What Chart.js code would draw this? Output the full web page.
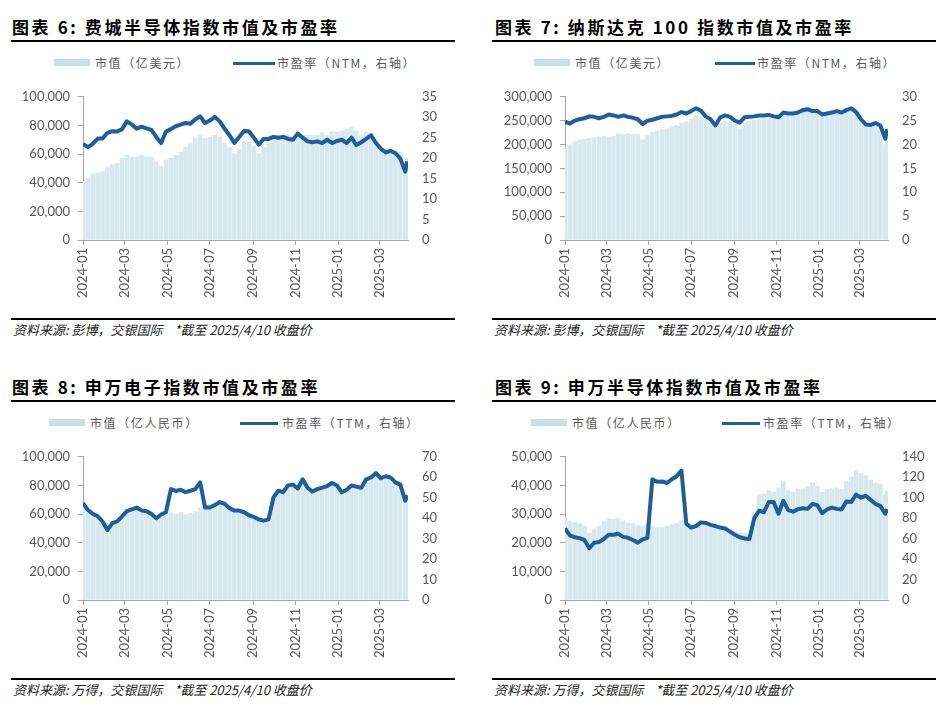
<!DOCTYPE html>
<html>
<head>
<meta charset="utf-8">
<script src="https://cdn.jsdelivr.net/npm/chart.js@4.4.1/dist/chart.umd.min.js"></script>
<style>
  body { margin: 0; background: #fff; width: 937px; height: 718px; position: relative; overflow: hidden;
         font-family: "Noto Sans CJK SC", sans-serif; }
  .title { position: absolute; font-weight: 700; font-size: 17px; letter-spacing: 2.6px; color: #000;
           line-height: 20px; white-space: nowrap; }
  .rule { position: absolute; height: 1.5px; background: #000; width: 444px; }
  .note { position: absolute; font-size: 13px; font-style: italic; color: #222; white-space: nowrap; line-height: 15px; }
  .lg { position: absolute; font-size: 12px; letter-spacing: 1.6px; color: #595959; white-space: nowrap; line-height: 14px; }
  .swBar { position: absolute; height: 7px; background: #c8dfe6; }
  .swLine { position: absolute; height: 3px; background: #1f5d9b; }
  canvas { position: absolute; }
</style>
</head>
<body>

<!-- 图表 6 -->
<div class="title" style="left:12px;top:17px">图表 6: 费城半导体指数市值及市盈率</div>
<div class="rule" style="left:11px;top:40px"></div>
<div class="swBar" style="left:54px;top:59px;width:36px"></div>
<div class="lg" style="left:95px;top:56px">市值（亿美元）</div>
<div class="swLine" style="left:233px;top:61.5px;width:42px"></div>
<div class="lg" style="left:277px;top:56px">市盈率（NTM，右轴）</div>
<canvas id="c6" width="430" height="230" style="left:20px;top:75px"></canvas>
<div class="rule" style="left:11px;top:318px"></div>
<div class="note" style="left:13px;top:322px">资料来源: 彭博，交银国际&nbsp;&nbsp;&nbsp;&nbsp;*截至 2025/4/10 收盘价</div>

<!-- 图表 7 -->
<div class="title" style="left:495px;top:17px">图表 7: 纳斯达克 100 指数市值及市盈率</div>
<div class="rule" style="left:492px;top:40px"></div>
<div class="swBar" style="left:534px;top:59px;width:36px"></div>
<div class="lg" style="left:575px;top:56px">市值（亿美元）</div>
<div class="swLine" style="left:715px;top:61.5px;width:40px"></div>
<div class="lg" style="left:757px;top:56px">市盈率（NTM，右轴）</div>
<canvas id="c7" width="428" height="230" style="left:502px;top:75px"></canvas>
<div class="rule" style="left:492px;top:318px"></div>
<div class="note" style="left:494px;top:322px">资料来源: 彭博，交银国际&nbsp;&nbsp;&nbsp;&nbsp;*截至 2025/4/10 收盘价</div>

<!-- 图表 8 -->
<div class="title" style="left:12px;top:377px">图表 8: 申万电子指数市值及市盈率</div>
<div class="rule" style="left:11px;top:400px"></div>
<div class="swBar" style="left:49px;top:419px;width:36px"></div>
<div class="lg" style="left:90px;top:416px">市值（亿人民币）</div>
<div class="swLine" style="left:240px;top:421.5px;width:38px"></div>
<div class="lg" style="left:282px;top:416px">市盈率（TTM，右轴）</div>
<canvas id="c8" width="430" height="230" style="left:20px;top:435px"></canvas>
<div class="rule" style="left:11px;top:678px"></div>
<div class="note" style="left:13px;top:682px">资料来源: 万得，交银国际&nbsp;&nbsp;&nbsp;&nbsp;*截至 2025/4/10 收盘价</div>

<!-- 图表 9 -->
<div class="title" style="left:495px;top:377px">图表 9: 申万半导体指数市值及市盈率</div>
<div class="rule" style="left:492px;top:400px"></div>
<div class="swBar" style="left:531px;top:419px;width:36px"></div>
<div class="lg" style="left:572px;top:416px">市值（亿人民币）</div>
<div class="swLine" style="left:722px;top:421.5px;width:38px"></div>
<div class="lg" style="left:763px;top:416px">市盈率（TTM，右轴）</div>
<canvas id="c9" width="428" height="230" style="left:502px;top:435px"></canvas>
<div class="rule" style="left:492px;top:678px"></div>
<div class="note" style="left:494px;top:682px">资料来源: 万得，交银国际&nbsp;&nbsp;&nbsp;&nbsp;*截至 2025/4/10 收盘价</div>

<script>
// weekly samples, last point = 2025-04-10 close
const weeks = [
  '2024-01-01','2024-01-08','2024-01-15','2024-01-22','2024-01-29','2024-02-05','2024-02-12','2024-02-19','2024-02-26',
  '2024-03-04','2024-03-11','2024-03-18','2024-03-25','2024-04-01','2024-04-08','2024-04-15','2024-04-22','2024-04-29',
  '2024-05-06','2024-05-13','2024-05-20','2024-05-27','2024-06-03','2024-06-10','2024-06-17','2024-06-24','2024-07-01',
  '2024-07-08','2024-07-15','2024-07-22','2024-07-29','2024-08-05','2024-08-12','2024-08-19','2024-08-26','2024-09-02',
  '2024-09-09','2024-09-16','2024-09-23','2024-09-30','2024-10-07','2024-10-14','2024-10-21','2024-10-28','2024-11-04',
  '2024-11-11','2024-11-18','2024-11-25','2024-12-02','2024-12-09','2024-12-16','2024-12-23','2024-12-30','2025-01-06',
  '2025-01-13','2025-01-20','2025-01-27','2025-02-03','2025-02-10','2025-02-17','2025-02-24','2025-03-03','2025-03-10',
  '2025-03-17','2025-03-24','2025-03-31','2025-04-07','2025-04-10'
];

// x axis tick labels (every two months)
const monthTicks = ['2024-01','2024-03','2024-05','2024-07','2024-09','2024-11','2025-01','2025-03'];

// 图表 6: 费城半导体
const soxCap = [40900,43000,46200,46900,47700,50500,52700,53300,57000,59100,58000,58000,59100,58000,58000,54800,51600,
  55900,57000,59100,61300,64900,67700,71400,73100,71000,72000,73100,72000,67700,64500,60200,63400,68800,68400,65600,
  60200,64500,67700,71400,73100,73100,73500,72000,75300,73100,73100,73100,73500,74800,73100,75700,75300,76300,77400,
  79100,76300,73100,75300,74200,68800,64500,63400,63400,62400,61300,47300,57000];
const soxPe = [23.5,22.7,23.5,24.8,24.8,26.2,26.6,26.5,27.1,29.0,28.2,27.2,27.7,27.3,26.9,25.2,23.7,26.5,27.1,27.8,
  28.2,28.6,28.4,29.5,30.2,28.6,29.2,30.1,29.0,27.2,25.6,23.7,25.2,26.7,26.5,25.0,23.3,24.7,24.7,25.2,25.0,25.2,24.7,
  24.5,26.0,25.0,24.1,23.9,24.1,23.7,24.5,23.7,24.2,24.5,23.7,25.0,23.2,23.9,24.7,25.6,23.7,22.3,21.4,21.8,21.2,19.9,
  16.7,19.2];

// 图表 7: 纳斯达克 100
const ndxCap = [193500,200000,206400,209600,211600,212900,214100,216100,217400,216100,217400,222500,220600,222500,
  220600,220600,209600,219300,225800,229000,230900,233500,237400,239900,245100,248300,252800,261200,258000,251600,
  245100,235400,245100,248300,246300,241900,233500,245100,248300,251600,252800,254800,254800,252800,254800,261200,
  259300,261200,264500,269600,272200,269600,269600,263200,264500,270900,269600,269600,273500,276100,265700,254800,
  245100,241900,245100,238700,200000,219300];
const ndxPe = [24.8,24.4,25.0,25.3,25.5,25.9,25.8,25.5,25.8,26.3,26.1,25.8,26.1,25.8,25.6,25.3,24.3,25.0,25.2,25.5,
  25.8,25.9,26.0,26.3,26.8,26.5,27.0,27.6,27.1,25.9,25.3,24.0,25.7,26.1,25.8,25.0,24.6,25.7,25.8,25.9,26.1,26.1,26.2,
  25.9,25.7,26.7,26.5,26.5,26.7,27.2,27.4,27.0,27.0,26.3,26.5,26.7,27.0,26.7,27.2,27.6,26.8,25.3,24.2,24.1,24.5,24.0,
  21.2,23.2];

// 图表 8: 申万电子
const elecCap = [65800,60900,58200,56500,52900,46900,51800,52900,56500,60000,61300,62600,60500,60000,58200,55000,57800,
  59300,61000,60000,61000,59500,60500,61500,64500,63600,63600,65400,67500,66200,63200,61500,61500,60300,58200,57100,
  55300,54500,55300,71500,76400,75400,80100,80700,77900,84400,78500,75800,77500,78500,79700,81800,80100,75400,77100,
  80100,79200,78500,84400,85700,88700,85100,86500,85700,82200,80700,69400,73200];
const elecPe = [47.4,44.0,42.1,40.9,38.4,34.2,37.6,38.4,40.9,43.4,44.3,45.2,43.7,43.4,42.1,39.9,41.8,42.9,54.2,53.3,
  53.9,52.7,53.4,54.2,57.5,45.2,45.2,46.4,47.9,47.0,44.9,43.7,43.7,42.9,41.4,40.6,39.4,38.8,39.4,50.0,53.4,52.7,56.0,
  56.4,54.5,59.0,54.9,53.0,54.2,54.9,55.7,57.2,56.0,52.7,53.9,56.0,55.4,54.9,59.0,59.9,62.0,59.5,60.5,59.9,57.5,56.4,
  48.5,51.2];

// 图表 9: 申万半导体
const semiCap = [28800,27400,27100,26700,25800,23400,24900,25800,27400,28500,28200,28500,27700,26900,26700,26000,25800,
  26600,25800,25300,25300,25800,26300,26700,27700,26700,25800,26300,27400,27100,26300,25800,25600,25300,24700,23900,
  23400,23400,23100,30600,36600,37100,38200,37800,39200,41400,38200,37600,38700,38900,39600,40900,39800,37600,38700,
  38900,39200,38700,41400,43000,45200,44100,43500,41900,40900,40500,36600,38200];
const semiPe = [69.9,63.2,61.4,60.5,58.7,50.6,56.0,56.6,59.6,63.8,63.8,64.7,61.7,60.8,58.7,56.0,59.3,60.8,118.0,115.6,
  115.9,114.4,118.0,121.0,126.5,74.7,70.8,72.3,75.9,75.3,73.5,72.3,70.8,69.9,66.8,63.8,61.4,60.2,59.6,79.8,87.3,85.8,
  95.8,95.8,84.3,97.0,87.9,86.4,88.8,89.7,89.1,93.9,92.7,84.9,88.5,90.3,89.1,88.5,96.4,95.8,103.0,100.0,101.8,97.9,
  93.9,91.8,84.3,88.8];

const BAR_COLOR = '#d7e9ee';
const LINE_COLOR = '#1f5d9b';
const AXIS_COLOR = '#a6a6a6';
const TICK_COLOR = '#595959';
const TICK_FONT = { family: 'Lato, "Liberation Sans", sans-serif', size: 13 };

// days since 2024-01-01, used as the linear x position
function dayOf(str) {
    const [y, m, d] = str.split('-').map(Number);
    return (Date.UTC(y, m - 1, d || 1) - Date.UTC(2024, 0, 1)) / 86400000;
}

const xDays = weeks.map(dayOf);
const tickDays = monthTicks.map(dayOf);

function makeChart(id, caps, pes, capMax, capStep, peMax, peStep) {
    const ctx = document.getElementById(id).getContext('2d');
    return new Chart(ctx, {
        type: 'bar',
        data: {
            datasets: [
                {
                    type: 'line',
                    data: pes.map((v, i) => ({ x: xDays[i], y: v })),
                    yAxisID: 'y1',
                    borderColor: LINE_COLOR,
                    borderWidth: 4,
                    borderJoinStyle: 'round',
                    pointRadius: 0,
                    tension: 0,
                    order: 0
                },
                {
                    type: 'bar',
                    data: caps.map((v, i) => ({ x: xDays[i], y: v })),
                    yAxisID: 'y',
                    backgroundColor: BAR_COLOR,
                    barThickness: 4,
                    order: 1
                }
            ]
        },
        options: {
            responsive: false,
            animation: false,
            devicePixelRatio: 1,
            layout: { padding: { top: 10, left: 0, right: 0, bottom: 0 } },
            plugins: { legend: { display: false }, tooltip: { enabled: false } },
            scales: {
                x: {
                    type: 'linear',
                    min: 0,
                    max: 466,
                    offset: false,
                    grid: { display: true, drawOnChartArea: false, drawTicks: true, tickLength: 5, color: AXIS_COLOR, offset: false },
                    border: { display: true, color: AXIS_COLOR },
                    afterBuildTicks: s => { s.ticks = tickDays.map(v => ({ value: v })); },
                    afterFit: s => { s.height = 65; },
                    ticks: {
                        autoSkip: false,
                        minRotation: 90,
                        maxRotation: 90,
                        padding: 3,
                        color: TICK_COLOR,
                        font: TICK_FONT,
                        callback: v => monthTicks[tickDays.indexOf(v)] || ''
                    }
                },
                y: {
                    position: 'left',
                    min: 0,
                    max: capMax,
                    grid: { display: true, drawOnChartArea: false, drawTicks: true, tickLength: 5, color: AXIS_COLOR },
                    border: { display: true, color: AXIS_COLOR },
                    afterFit: s => { s.width = 63; },
                    ticks: {
                        stepSize: capStep,
                        padding: 8,
                        color: TICK_COLOR,
                        font: TICK_FONT,
                        callback: v => v.toLocaleString('en-US')
                    }
                },
                y1: {
                    position: 'right',
                    min: 0,
                    max: peMax,
                    grid: { display: false, drawTicks: false },
                    border: { display: false },
                    afterFit: s => { s.width = 42; },
                    ticks: { stepSize: peStep, padding: 14, color: TICK_COLOR, font: TICK_FONT }
                }
            }
        }
    });
}

makeChart('c6', soxCap, soxPe, 100000, 20000, 35, 5);
makeChart('c7', ndxCap, ndxPe, 300000, 50000, 30, 5);
makeChart('c8', elecCap, elecPe, 100000, 20000, 70, 10);
makeChart('c9', semiCap, semiPe, 50000, 10000, 140, 20);
</script>
</body>
</html>
